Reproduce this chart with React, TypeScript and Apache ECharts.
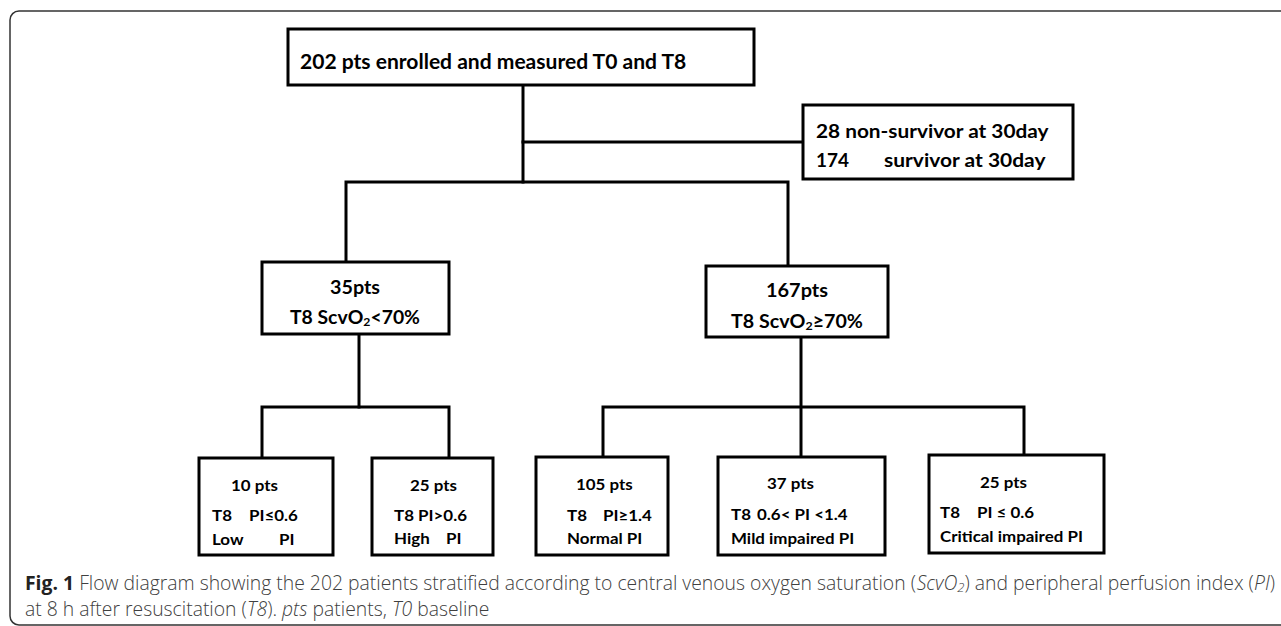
import React, { useEffect, useRef } from "react";
import * as echarts from "echarts";

// ---- Data (labels / counts) ----
const topLabel = "202 pts enrolled and measured T0 and T8";
const nonSurvivorLabel = "28 non-survivor at 30day";
const survivorCount = "174";
const survivorLabel = "survivor at 30day";
const scvo2Counts = ["35pts", "167pts"];
const scvo2Criteria = [
  ["T8 ScvO", "2", "<70%"],
  ["T8 ScvO", "2", "≥70%"],
];
const piCounts = ["10 pts", "25 pts", "105 pts", "37 pts", "25 pts"];
const piPrefix = ["T8", "", "T8", "T8", "T8"];
const piCriteria = ["PI≤0.6", "T8 PI>0.6", "PI≥1.4", "0.6< PI <1.4", "PI ≤ 0.6"];
const piGroups = [["Low", "PI"], ["High", "PI"], ["Normal PI"], ["Mild impaired PI"], ["Critical impaired PI"]];
const captionLine1 = [
  ["b", "Fig. 1"],
  ["r", " Flow diagram showing the 202 patients stratified according to central venous oxygen saturation ("],
  ["i", "ScvO"],
  ["is", "2"],
  ["r", ") and peripheral perfusion index ("],
  ["i", "PI"],
  ["r", ")"],
];
const captionLine2 = [
  ["r", "at 8 h after resuscitation ("],
  ["i", "T8"],
  ["r", "). "],
  ["i", "pts"],
  ["r", " patients, "],
  ["i", "T0"],
  ["r", " baseline"],
];

// ---- Layout ----
const boxes = {
  top: [288, 29, 754, 85],
  surv: [803, 105, 1073, 179],
  low: [262, 262, 449, 334],
  high: [706, 266, 888, 337],
  a: [199, 458, 333, 555],
  b: [372, 458, 493, 555],
  c: [536, 457, 668, 555],
  d: [718, 457, 885, 555],
  e: [929, 455, 1104, 553],
};

const FONT = "Lato";
const CAP_FONT = '"Open Sans"';

let ctx: CanvasRenderingContext2D | null = null;
function measure(text: string, size: number, weight: string, style: string, family: string) {
  if (!ctx) ctx = document.createElement("canvas").getContext("2d");
  ctx!.font = `${style} ${weight} ${size}px ${family}`;
  return ctx!.measureText(text).width;
}

type Seg = { text: string; size: number; weight?: string; italic?: boolean; dy?: number; fill?: string };

function naturalWidth(segs: Seg[], family: string) {
  return segs.reduce((s, g) => s + measure(g.text, g.size, g.weight || "normal", g.italic ? "italic" : "normal", family), 0);
}

function lineEls(segs: Seg[], family: string, left: number, cy: number, opt: { right?: number; scale?: number }, fill = "#000") {
  const nat = naturalWidth(segs, family);
  const s = opt.scale != null ? opt.scale : opt.right != null ? (opt.right - left) / nat : 1;
  let x = left;
  const els: any[] = [];
  segs.forEach((g) => {
    const w = measure(g.text, g.size, g.weight || "normal", g.italic ? "italic" : "normal", family);
    els.push({
      type: "text",
      x,
      y: cy + (g.dy || 0),
      scaleX: s,
      silent: true,
      style: {
        text: g.text,
        fontSize: g.size,
        fontWeight: g.weight || "normal",
        fontStyle: g.italic ? "italic" : "normal",
        fontFamily: family,
        fill: g.fill || fill,
        align: "left",
        verticalAlign: "middle",
      },
    });
    x += w * s;
  });
  return { els, scale: s };
}

function rectEl(b: number[]) {
  return {
    type: "rect",
    silent: true,
    shape: { x: b[0], y: b[1], width: b[2] - b[0], height: b[3] - b[1] },
    style: { fill: "#fff", stroke: "#000", lineWidth: 3 },
  };
}
function poly(points: number[][]) {
  return {
    type: "polyline",
    silent: true,
    shape: { points },
    style: { stroke: "#000", lineWidth: 3, fill: null, lineJoin: "miter", lineCap: "square" },
  };
}

function buildElements() {
  const els: any[] = [];
  // frame
  els.push({
    type: "rect",
    silent: true,
    shape: { x: 10, y: 11, width: 1300, height: 614, r: 9 },
    style: { fill: "none", stroke: "#333", lineWidth: 1.5 },
  });
  // connectors
  els.push(poly([[523, 85], [523, 182]]));
  els.push(poly([[523, 142], [803, 142]]));
  els.push(poly([[346, 262], [346, 182], [788, 182], [788, 266]]));
  els.push(poly([[359, 334], [359, 407]]));
  els.push(poly([[262, 458], [262, 407], [449, 407], [449, 458]]));
  els.push(poly([[801, 337], [801, 457]]));
  els.push(poly([[603, 457], [603, 407], [1024, 407], [1024, 455]]));
  // boxes
  Object.values(boxes).forEach((b) => els.push(rectEl(b)));

  const B = "bold";
  // top box
  els.push(...lineEls([{ text: topLabel, size: 20, weight: B }], FONT, 300, 61, { right: 688 }).els);
  // survivor box
  els.push(...lineEls([{ text: nonSurvivorLabel, size: 19, weight: B }], FONT, 816, 130, { right: 1049 }).els);
  els.push(...lineEls([{ text: survivorCount, size: 19, weight: B }], FONT, 816, 159, { right: 849 }).els);
  els.push(...lineEls([{ text: survivorLabel, size: 19, weight: B }], FONT, 884, 159, { right: 1046 }).els);
  // ScvO2 boxes
  const cnt = [[330, 380, 287], [766, 828, 290]];
  const crit = [[290, 420, 317], [731, 863, 321]];
  scvo2Counts.forEach((t, i) => {
    els.push(...lineEls([{ text: t, size: 19, weight: B }], FONT, cnt[i][0], cnt[i][2], { right: cnt[i][1] }).els);
    const p = scvo2Criteria[i];
    els.push(
      ...lineEls(
        [
          { text: p[0], size: 19, weight: B },
          { text: p[1], size: 12, weight: B, dy: 5 },
          { text: p[2], size: 19, weight: B },
        ],
        FONT,
        crit[i][0],
        crit[i][2],
        { right: crit[i][1] }
      ).els
    );
  });

  // PI boxes
  const bs = 15.5;
  const scale = (142 / naturalWidth([{ text: "Critical impaired PI", size: bs, weight: B }], FONT) +
    124 / naturalWidth([{ text: "Mild impaired PI", size: bs, weight: B }], FONT)) / 2;
  const countPos = [[231, 485], [410, 485], [576, 484], [767, 483], [980, 482]];
  const prefPos = [[212, 515], [0, 0], [567, 515], [731, 514], [940, 512]];
  const critPos = [[249, 515], [394, 515], [603, 515], [757, 514], [977, 512]];
  const groupPos = [
    [[212, 539], [279, 539]],
    [[394, 538], [446, 538]],
    [[567, 538]],
    [[731, 538]],
    [[940, 536]],
  ];
  piCounts.forEach((t, i) => {
    els.push(...lineEls([{ text: t, size: bs, weight: B }], FONT, countPos[i][0], countPos[i][1], { scale }).els);
    if (piPrefix[i]) els.push(...lineEls([{ text: piPrefix[i], size: bs, weight: B }], FONT, prefPos[i][0], prefPos[i][1], { scale }).els);
    els.push(...lineEls([{ text: piCriteria[i], size: bs, weight: B }], FONT, critPos[i][0], critPos[i][1], { scale }).els);
    piGroups[i].forEach((g, j) => {
      els.push(...lineEls([{ text: g, size: bs, weight: B }], FONT, groupPos[i][j][0], groupPos[i][j][1], { scale }).els);
    });
  });

  // caption
  const capSeg = (l: string[][]): Seg[] =>
    l.map(([k, t]) => ({
      text: t,
      size: k === "is" ? 13.5 : 20,
      weight: k === "b" ? "bold" : "300",
      italic: k === "i" || k === "is",
      dy: k === "is" ? 5 : 0,
      fill: k === "b" ? "#222" : "#404040",
    }));
  const l1 = lineEls(capSeg(captionLine1), CAP_FONT, 25, 582, { right: 1275 }, "#404040");
  els.push(...l1.els);
  els.push(...lineEls(capSeg(captionLine2), CAP_FONT, 25, 608, { scale: l1.scale }, "#404040").els);
  return els;
}

export default function App() {
  const ref = useRef<HTMLDivElement>(null);
  useEffect(() => {
    if (!ref.current) return;
    const chart = echarts.init(ref.current, null, { renderer: "svg" });
    chart.setOption({
      animation: false,
      backgroundColor: "#fff",
      graphic: { elements: buildElements() },
    });
    return () => chart.dispose();
  }, []);
  return <div ref={ref} style={{ position: "absolute", left: 0, top: 0, width: 1281, height: 626 }} />;
}
